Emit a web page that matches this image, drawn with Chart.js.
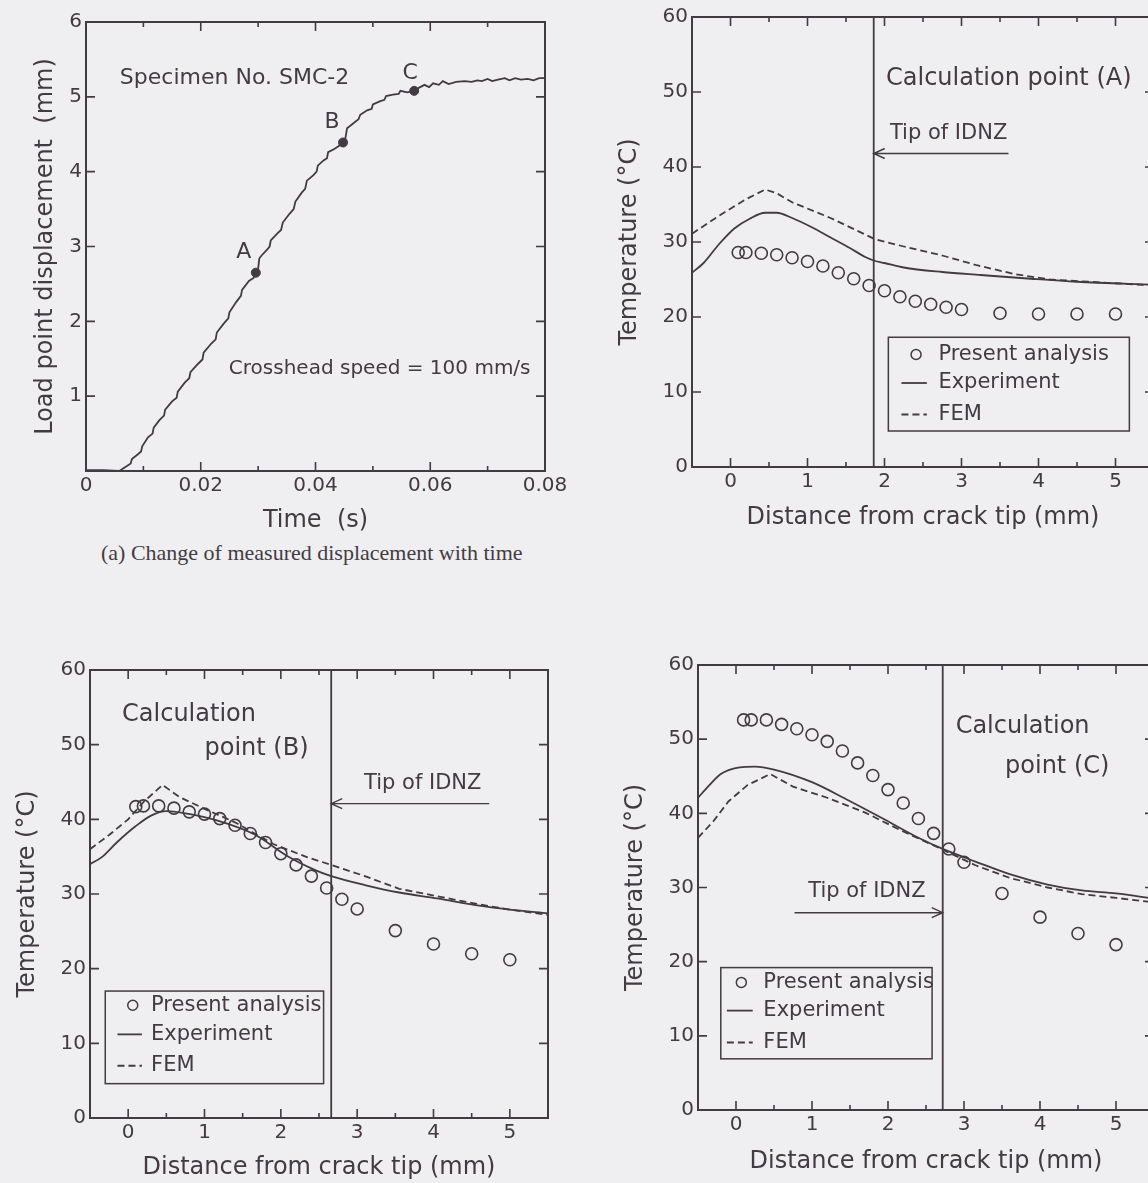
<!DOCTYPE html>
<html>
<head>
<meta charset="utf-8">
<script src="https://cdn.jsdelivr.net/npm/chart.js@4.4.1/dist/chart.umd.min.js"></script>
<style>
  html, body { margin: 0; padding: 0; background: #efeef0; overflow: hidden; }
  body { width: 1148px; height: 1183px; position: relative; }
  canvas { position: absolute; }
  #caption { position: absolute; left: 101px; top: 540px; font-family: "Liberation Serif", "Times New Roman", serif; font-size: 22px; color: #433c42; white-space: nowrap; }
</style>
</head>
<body>
<canvas id="chartTime"></canvas>
<canvas id="chartA"></canvas>
<canvas id="chartB"></canvas>
<canvas id="chartC"></canvas>
<div id="caption">(a) Change of measured displacement with time</div>
<script>
// load point displacement record, specimen SMC-2
var timeS = [0, 0.0030, 0.0058, 0.0062, 0.0070, 0.0078, 0.0080, 0.0090, 0.0096, 0.0098,
  0.0108, 0.0116, 0.0118, 0.0128, 0.0136, 0.0138, 0.0150, 0.0158, 0.0160, 0.0172,
  0.0180, 0.0182, 0.0195, 0.0203, 0.0205, 0.0218, 0.0226, 0.0228, 0.0240, 0.0248,
  0.0250, 0.0262, 0.0270, 0.0272, 0.0284, 0.0292, 0.0296, 0.0300, 0.0302, 0.0306,
  0.0316, 0.0320, 0.0322, 0.0334, 0.0340, 0.0343, 0.0355, 0.0362, 0.0365, 0.0376,
  0.0382, 0.0385, 0.0396, 0.0402, 0.0404, 0.0414, 0.0420, 0.0422, 0.0432, 0.0440,
  0.0448, 0.0452, 0.0455, 0.0465, 0.0475, 0.0478, 0.0490, 0.0498, 0.0500, 0.0512,
  0.0520, 0.0523, 0.0535, 0.0545, 0.0548, 0.0560, 0.0572, 0.0580, 0.0590, 0.0598,
  0.0605, 0.0615, 0.0622, 0.0632, 0.0645, 0.0660, 0.0672, 0.0682, 0.0690, 0.0700,
  0.0708, 0.0718, 0.0730, 0.0738, 0.0748, 0.0758, 0.0770, 0.0780, 0.0790, 0.0800];
var dispMm = [0.01, 0.01, 0.00, 0.02, 0.06, 0.10, 0.16, 0.22, 0.26, 0.33,
  0.45, 0.50, 0.58, 0.68, 0.74, 0.82, 0.93, 0.98, 1.06, 1.18,
  1.24, 1.32, 1.43, 1.49, 1.58, 1.70, 1.76, 1.85, 1.97, 2.04,
  2.12, 2.26, 2.34, 2.42, 2.54, 2.58, 2.65, 2.70, 2.84, 2.88,
  2.96, 3.00, 3.08, 3.18, 3.22, 3.32, 3.44, 3.50, 3.60, 3.72,
  3.77, 3.88, 3.95, 4.00, 4.08, 4.15, 4.18, 4.26, 4.30, 4.34,
  4.39, 4.44, 4.58, 4.64, 4.70, 4.76, 4.82, 4.84, 4.90, 4.94,
  4.96, 5.01, 5.03, 5.04, 5.08, 5.06, 5.08, 5.12, 5.16, 5.13,
  5.18, 5.16, 5.21, 5.17, 5.20, 5.21, 5.20, 5.22, 5.21, 5.24,
  5.21, 5.23, 5.25, 5.22, 5.25, 5.23, 5.24, 5.22, 5.25, 5.25];
var markNames = ["A", "B", "C"];
var markTimes = [0.0296, 0.0448, 0.0572];
var markDisp = [2.65, 4.39, 5.08];

// temperature ahead of the crack tip
var calcDist = [0.1, 0.2, 0.4, 0.6, 0.8, 1.0, 1.2, 1.4, 1.6, 1.8, 2.0, 2.2, 2.4, 2.6, 2.8, 3.0, 3.5, 4.0, 4.5, 5.0];

// calculation point (A)
var calcTempA = [28.6, 28.6, 28.5, 28.3, 27.9, 27.4, 26.8, 25.9, 25.1, 24.2, 23.5, 22.7, 22.1, 21.7, 21.3, 21.0, 20.5, 20.4, 20.4, 20.4];
var expDistA = [-0.5, -0.35, -0.15, 0.05, 0.25, 0.45, 0.6, 0.8, 1.05, 1.3, 1.55, 1.75, 1.87, 2.0, 2.25, 2.75, 3.25, 3.9, 4.5, 5.5];
var expTempA = [25.9, 27.2, 29.7, 31.8, 33.1, 33.9, 33.9, 33.2, 32.0, 30.6, 29.2, 28.0, 27.5, 27.2, 26.6, 26.0, 25.6, 25.1, 24.7, 24.3];
var femDistA = [-0.5, -0.15, 0.2, 0.45, 0.6, 0.8, 1.3, 1.87, 2.25, 2.75, 3.2, 3.7, 4.15, 4.65, 5.5];
var femTempA = [31.1, 33.5, 35.7, 37.0, 36.5, 35.3, 33.2, 30.4, 29.4, 28.2, 26.9, 25.7, 25.0, 24.7, 24.2];
var tipA = 1.86;

// calculation point (B)
var calcTempB = [41.7, 41.8, 41.8, 41.5, 41.0, 40.7, 40.1, 39.2, 38.1, 36.9, 35.4, 33.9, 32.4, 30.8, 29.3, 28.0, 25.1, 23.3, 22.0, 21.2];
var expDistB = [-0.5, -0.35, -0.15, 0.1, 0.3, 0.5, 0.75, 1.15, 1.65, 2.1, 2.45, 2.66, 3.1, 3.55, 4.05, 4.55, 5.0, 5.5];
var expTempB = [34.0, 34.9, 36.9, 39.1, 40.5, 41.1, 40.8, 39.9, 38.0, 35.0, 33.2, 32.4, 31.2, 30.2, 29.4, 28.5, 27.9, 27.4];
var femDistB = [-0.5, -0.25, 0.0, 0.2, 0.45, 0.67, 1.0, 1.4, 1.9, 2.35, 2.66, 3.1, 3.55, 4.05, 4.55, 5.0, 5.5];
var femTempB = [36.0, 37.9, 40.0, 42.3, 44.6, 43.0, 41.4, 39.6, 36.7, 34.9, 33.9, 32.4, 30.7, 29.7, 28.7, 27.9, 27.2];
var tipB = 2.66;

// calculation point (C)
var calcTempC = [52.6, 52.6, 52.6, 52.0, 51.4, 50.6, 49.7, 48.4, 46.8, 45.1, 43.2, 41.4, 39.3, 37.3, 35.2, 33.4, 29.2, 26.0, 23.8, 22.3];
var expDistC = [-0.5, -0.35, -0.2, 0.05, 0.25, 0.5, 1.0, 1.45, 1.95, 2.4, 2.72, 3.15, 3.6, 4.1, 4.55, 5.0, 5.5];
var expTempC = [42.1, 43.8, 45.3, 46.2, 46.3, 45.9, 44.2, 41.9, 39.2, 36.7, 35.2, 33.5, 31.8, 30.4, 29.6, 29.2, 28.5];
var femDistC = [-0.5, -0.3, -0.1, 0.15, 0.45, 0.75, 1.2, 1.7, 2.15, 2.72, 3.15, 3.6, 4.1, 4.55, 5.0, 5.5];
var femTempC = [36.7, 38.9, 41.6, 43.8, 45.3, 43.6, 42.1, 40.1, 37.8, 35.1, 33.0, 31.3, 30.0, 29.1, 28.6, 28.0];
var tipC = 2.72;

var tempTicks = [0, 10, 20, 30, 40, 50, 60];

var INK = "#423b41";
var BG = "#efeef0";
var DASH = [7, 4];

Chart.defaults.font.family = "'DejaVu Sans', sans-serif";
Chart.defaults.color = INK;

function pts(xs, ys) {
  return xs.map(function (x, i) { return { x: x, y: ys[i] }; });
}

function isStep(v, step) {
  var r = v / step;
  return Math.abs(r - Math.round(r)) < 1e-6;
}

// frame, inward ticks, notes, arrow and the boxed key
function decor(spec) {
  return {
    id: "decor",
    afterDatasetsDraw: function (chart) {
      var ctx = chart.ctx, a = chart.chartArea;
      var xs = chart.scales.x, ys = chart.scales.y;
      var px = function (v) { return xs.getPixelForValue(v); };
      var py = function (v) { return ys.getPixelForValue(v); };
      ctx.save();
      ctx.strokeStyle = INK;
      ctx.fillStyle = INK;

      ctx.lineWidth = 1.6;
      ctx.beginPath();
      xs.ticks.forEach(function (t) {
        var x = px(t.value);
        if (x < a.left + 2 || x > a.right - 2) return;
        var len = isStep(t.value, spec.xMajor) ? 9 : 5;
        ctx.moveTo(x, a.bottom); ctx.lineTo(x, a.bottom - len);
        ctx.moveTo(x, a.top); ctx.lineTo(x, a.top + len);
      });
      ys.ticks.forEach(function (t) {
        var y = py(t.value);
        if (y < a.top + 2 || y > a.bottom - 2) return;
        ctx.moveTo(a.left, y); ctx.lineTo(a.left + 9, y);
        ctx.moveTo(a.right, y); ctx.lineTo(a.right - 9, y);
      });
      ctx.stroke();

      ctx.lineWidth = 2;
      ctx.strokeRect(a.left, a.top, a.right - a.left, a.bottom - a.top);

      ctx.textAlign = "left";
      ctx.textBaseline = "middle";
      (spec.notes || []).forEach(function (n) {
        ctx.font = n.size + "px 'DejaVu Sans', sans-serif";
        ctx.fillText(n.text, px(n.x), py(n.y));
      });

      if (spec.marks) {
        ctx.textAlign = "center";
        ctx.font = "22px 'DejaVu Sans', sans-serif";
        spec.marks.forEach(function (m, i) {
          ctx.fillText(markNames[i], px(markTimes[i]) + m[0], py(markDisp[i]) + m[1]);
        });
      }

      if (spec.arrow) {
        var ar = spec.arrow;
        var x0 = px(ar.from), x1 = px(ar.to), y = py(ar.y);
        var dir = x1 > x0 ? 1 : -1;
        ctx.lineWidth = 1.4;
        ctx.beginPath();
        ctx.moveTo(x0, y); ctx.lineTo(x1, y);
        ctx.moveTo(x1 - dir * 11, y - 5); ctx.lineTo(x1, y); ctx.lineTo(x1 - dir * 11, y + 5);
        ctx.stroke();
      }

      if (spec.key) {
        var k = spec.key;
        var bx0 = px(k.box[0]), by0 = py(k.box[1]), bx1 = px(k.box[2]), by1 = py(k.box[3]);
        ctx.fillStyle = BG;
        ctx.fillRect(bx0, by0, bx1 - bx0, by1 - by0);
        ctx.lineWidth = 1.5;
        ctx.strokeRect(bx0, by0, bx1 - bx0, by1 - by0);
        ctx.fillStyle = INK;
        ctx.font = "21px 'DejaVu Sans', sans-serif";
        ctx.textAlign = "left";
        var sx = px(k.sym), l0 = px(k.line[0]), l1 = px(k.line[1]), tx = px(k.text);
        var r0 = py(k.rows[0]), r1 = py(k.rows[1]), r2 = py(k.rows[2]);
        ctx.beginPath();
        ctx.arc(sx, r0, 5, 0, Math.PI * 2);
        ctx.stroke();
        ctx.lineWidth = 1.8;
        ctx.beginPath();
        ctx.moveTo(l0, r1); ctx.lineTo(l1, r1);
        ctx.stroke();
        ctx.setLineDash(DASH);
        ctx.beginPath();
        ctx.moveTo(l0, r2); ctx.lineTo(l1, r2);
        ctx.stroke();
        ctx.setLineDash([]);
        ctx.fillText("Present analysis", tx, r0);
        ctx.fillText("Experiment", tx, r1);
        ctx.fillText("FEM", tx, r2);
      }
      ctx.restore();
    }
  };
}

function panel(id, geo, spec, datasets) {
  var c = document.getElementById(id);
  var w = geo.right - geo.left + geo.padL + geo.padR;
  var h = geo.bottom - geo.top + geo.padT + geo.padB;
  c.width = w;
  c.height = h;
  c.style.left = (geo.left - geo.padL) + "px";
  c.style.top = (geo.top - geo.padT) + "px";
  c.style.width = w + "px";
  c.style.height = h + "px";
  return new Chart(c, {
    type: "scatter",
    data: { datasets: datasets },
    options: {
      responsive: false,
      animation: false,
      events: [],
      layout: { padding: { left: 0, top: geo.padT, right: geo.padR, bottom: 0 } },
      plugins: { legend: { display: false }, tooltip: { enabled: false } },
      scales: {
        x: {
          type: "linear", min: spec.xMin, max: spec.xMax,
          grid: { display: false, drawTicks: false },
          border: { display: false },
          ticks: { stepSize: spec.xStep, autoSkip: false, maxRotation: 0, padding: 3,
            font: { size: 20 }, color: INK, callback: spec.xLabel },
          title: { display: true, text: spec.xTitle, font: { size: 24 }, color: INK, padding: 0 },
          afterFit: function (s) { s.height = geo.padB; }
        },
        y: {
          type: "linear", min: spec.yMin, max: spec.yMax,
          grid: { display: false, drawTicks: false },
          border: { display: false },
          ticks: { stepSize: spec.yStep, autoSkip: false, padding: 4,
            font: { size: 20 }, color: INK, callback: spec.yLabel },
          title: { display: true, text: spec.yTitle, font: { size: 24 }, color: INK, padding: 0 },
          afterFit: function (s) { s.width = geo.padL; }
        }
      }
    },
    plugins: [decor(spec)]
  });
}

function tempSets(dist, calc, expD, expT, femD, femT, tip) {
  return [
    { data: pts([tip, tip], [tempTicks[0], tempTicks[tempTicks.length - 1]]), showLine: true,
      borderColor: INK, borderWidth: 1.8, pointRadius: 0 },
    { data: pts(expD, expT), showLine: true, borderColor: INK, borderWidth: 1.8,
      pointRadius: 0, cubicInterpolationMode: "monotone" },
    { data: pts(femD, femT), showLine: true, borderColor: INK, borderWidth: 1.8,
      borderDash: DASH, pointRadius: 0, tension: 0 },
    { data: pts(dist, calc), showLine: false, pointRadius: 6, pointBorderWidth: 1.6,
      pointBorderColor: INK, pointBackgroundColor: "rgba(0,0,0,0)" }
  ];
}

function distLabel(v) { return isStep(v, 1) ? String(Math.round(v)) : ""; }
function tempLabel(v) { return String(v); }

function tempSpec(extra) {
  var s = {
    xMin: -0.5, xMax: 5.5, xStep: 0.5, xMajor: 1, xLabel: distLabel,
    yMin: tempTicks[0], yMax: tempTicks[tempTicks.length - 1], yStep: 10, yLabel: tempLabel,
    xTitle: "Distance from crack tip (mm)", yTitle: "Temperature (°C)"
  };
  for (var k in extra) s[k] = extra[k];
  return s;
}

// (a) displacement against time
panel("chartTime",
  { left: 86, right: 545, top: 20, bottom: 471, padL: 55, padR: 30, padT: 14, padB: 64 },
  {
    xMin: 0, xMax: 0.08, xStep: 0.01, xMajor: 0.02,
    xLabel: function (v) { return isStep(v, 0.02) ? (Math.abs(v) < 1e-9 ? "0" : v.toFixed(2)) : ""; },
    yMin: 0, yMax: 6, yStep: 1,
    yLabel: function (v) { return v === 0 ? "" : String(v); },
    xTitle: "Time  (s)", yTitle: "Load point displacement  (mm)",
    notes: [
      { text: "Specimen No. SMC-2", x: 0.0059, y: 5.25, size: 22 },
      { text: "Crosshead speed = 100 mm/s", x: 0.0249, y: 1.36, size: 20 }
    ],
    marks: [[-12, -20], [-11, -20], [-4, -18]]
  },
  [
    { data: pts(markTimes, markDisp), showLine: false, pointRadius: 4.5,
      pointBackgroundColor: INK, pointBorderColor: INK, pointBorderWidth: 1 },
    { data: pts(timeS, dispMm), showLine: true, borderColor: INK, borderWidth: 1.8,
      pointRadius: 0, tension: 0 }
  ]);

panel("chartA",
  { left: 692, right: 1154, top: 15, bottom: 467, padL: 77, padR: 10, padT: 14, padB: 65 },
  tempSpec({
    notes: [
      { text: "Calculation point (A)", x: 2.02, y: 51.8, size: 24 },
      { text: "Tip of IDNZ", x: 2.07, y: 44.5, size: 21 }
    ],
    arrow: { from: 3.61, to: tipA, y: 41.8 },
    key: { box: [2.05, 17.3, 5.18, 4.8], sym: 2.41, line: [2.22, 2.55], text: 2.7, rows: [15.0, 11.2, 7.0] }
  }),
  tempSets(calcDist, calcTempA, expDistA, expTempA, femDistA, femTempA, tipA));

panel("chartB",
  { left: 90, right: 548, top: 668, bottom: 1118, padL: 77, padR: 10, padT: 14, padB: 64 },
  tempSpec({
    notes: [
      { text: "Calculation", x: -0.08, y: 54.0, size: 24 },
      { text: "point (B)", x: 1.0, y: 49.5, size: 24 },
      { text: "Tip of IDNZ", x: 3.09, y: 44.8, size: 21 }
    ],
    arrow: { from: 4.73, to: tipB, y: 42.1 },
    key: { box: [-0.3, 17.0, 2.56, 4.6], sym: 0.06, line: [-0.14, 0.18], text: 0.3, rows: [15.1, 11.2, 7.0] }
  }),
  tempSets(calcDist, calcTempB, expDistB, expTempB, femDistB, femTempB, tipB));

panel("chartC",
  { left: 698, right: 1154, top: 663, bottom: 1110, padL: 77, padR: 10, padT: 14, padB: 66 },
  tempSpec({
    notes: [
      { text: "Calculation", x: 2.89, y: 51.7, size: 24 },
      { text: "point (C)", x: 3.54, y: 46.3, size: 24 },
      { text: "Tip of IDNZ", x: 0.95, y: 29.5, size: 21 }
    ],
    arrow: { from: 0.77, to: tipC, y: 26.6 },
    key: { box: [-0.2, 19.2, 2.58, 6.9], sym: 0.07, line: [-0.12, 0.22], text: 0.36, rows: [17.2, 13.4, 9.1] }
  }),
  tempSets(calcDist, calcTempC, expDistC, expTempC, femDistC, femTempC, tipC));
</script>
</body>
</html>
